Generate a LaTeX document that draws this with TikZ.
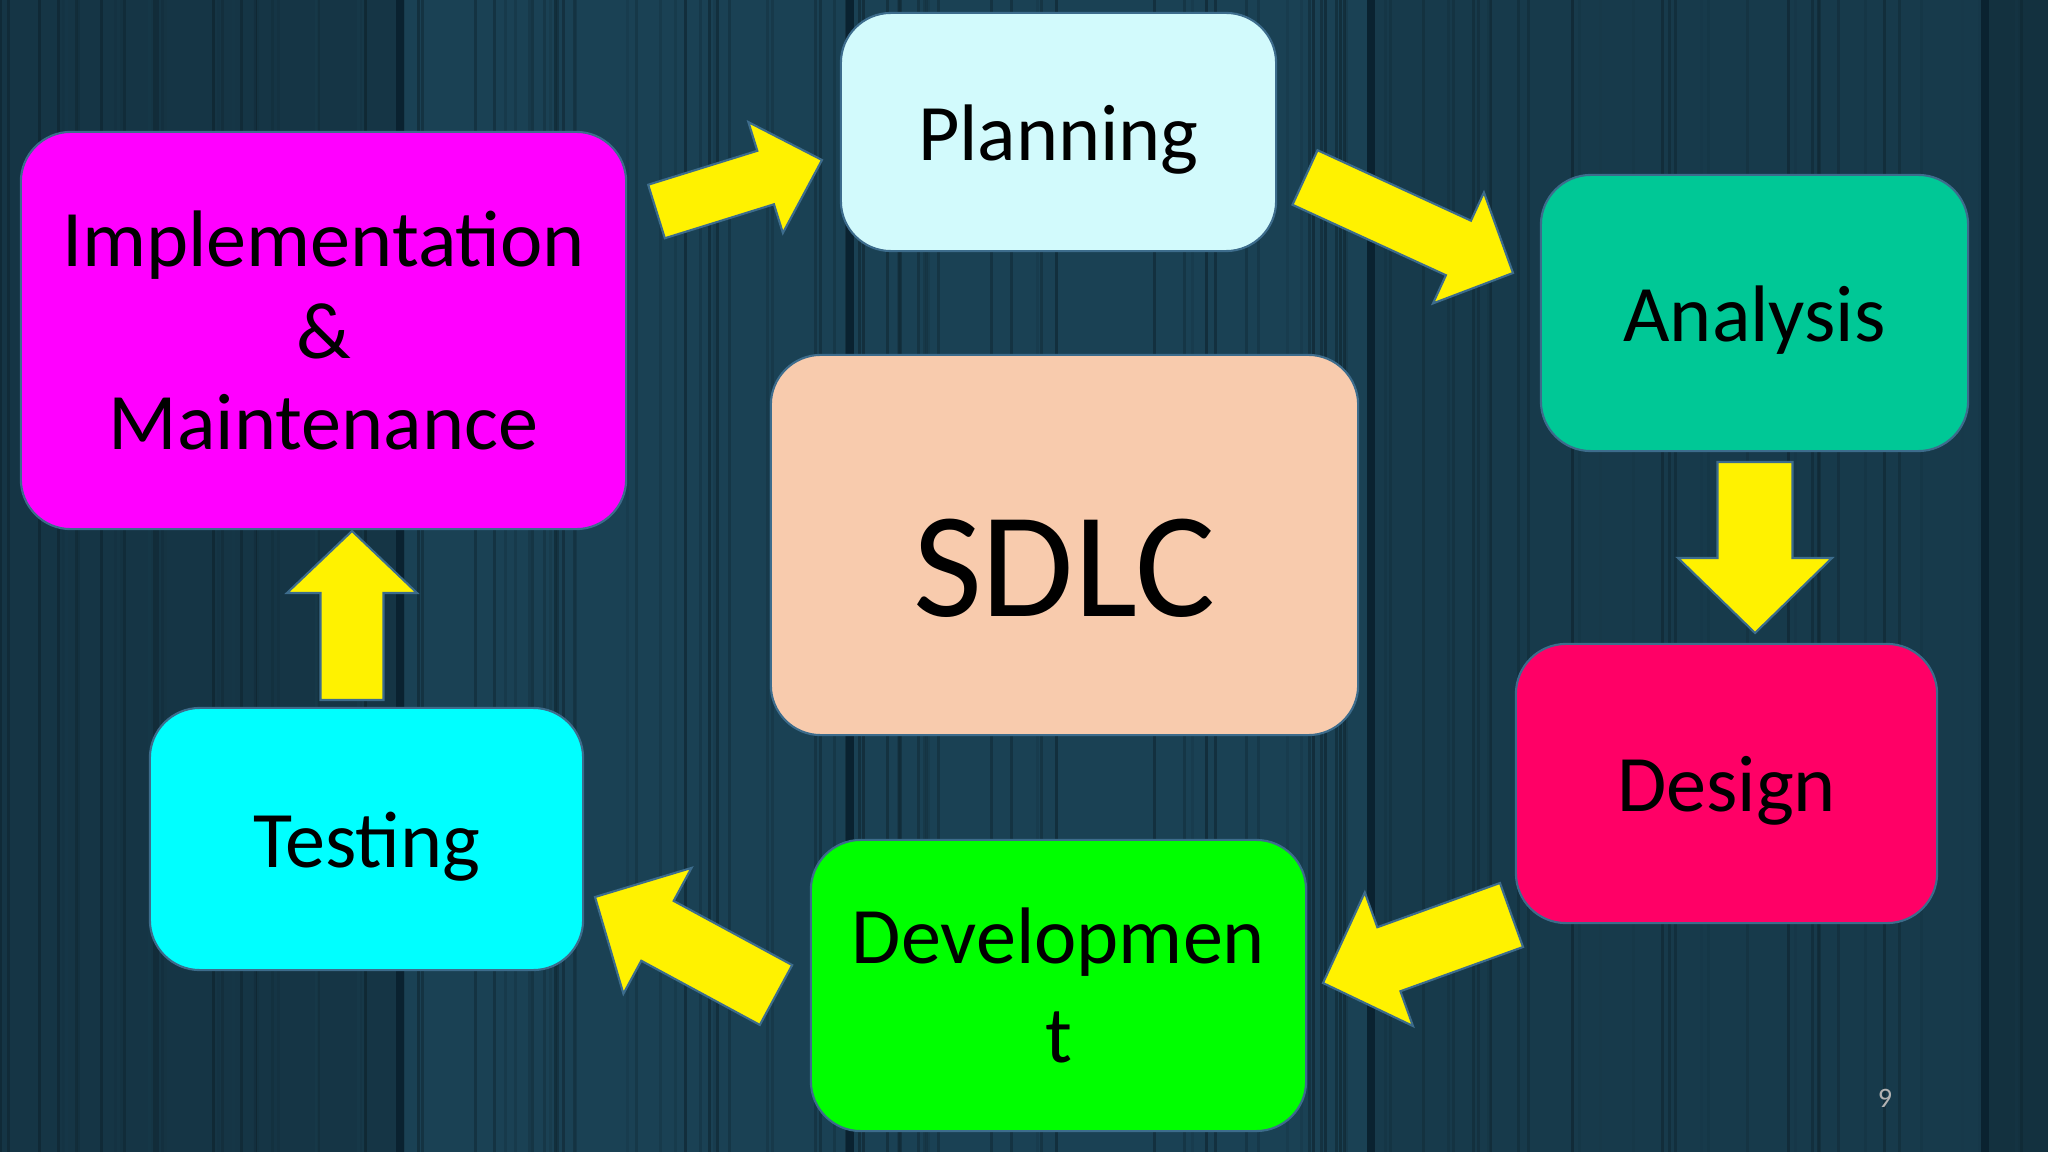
\documentclass[tikz,border=0pt]{standalone}
\usepackage{fontspec}
\setmainfont{Carlito}
\usetikzlibrary{calc,positioning}

\definecolor{woodbg}{HTML}{1A4154}
\definecolor{woodseam}{HTML}{0A2230}
\definecolor{boxline}{HTML}{3D6C8C}
\definecolor{planfill}{HTML}{D2FAFC}
\definecolor{analfill}{HTML}{00C896}
\definecolor{desfill}{HTML}{FF0066}
\definecolor{devfill}{HTML}{00FF00}
\definecolor{testfill}{HTML}{00FFFF}
\definecolor{implfill}{HTML}{FF00FF}
\definecolor{sdlcfill}{HTML}{F8CBAD}

\tikzset{
  phase/.style={draw=boxline, line width=0.6pt, rounded corners=0.5cm,
    inner sep=2pt, font=\fontsize{22.8}{26}\selectfont},
  oneline/.style={text height=21pt, text depth=5pt},
  yellowarrow/.style={fill=yellow, draw=boxline, line width=0.6pt, line join=miter}
}

% tail, tip, half shaft, half head, head length
\newcommand{\blockarrow}[5]{%
  \filldraw[yellowarrow] ($(#1)!#3!90:(#2)$) -- ($(#2)!#5!(#1)!#3!90:(#2)$)
    -- ($(#2)!#5!(#1)!#4!90:(#2)$) -- (#2) -- ($(#2)!#5!(#1)!#4!-90:(#2)$)
    -- ($(#2)!#5!(#1)!#3!-90:(#2)$) -- ($(#1)!#3!-90:(#2)$) -- cycle;}

\begin{document}
\begin{tikzpicture}[x=0.01cm,y=-0.01cm]
	% wood planks
	\fill[woodbg] (0,0) rectangle (2048,1152);
	\useasboundingbox (0,0) rectangle (2048,1152);
	\fill[woodbg!82!black] (0,0) rectangle (400,1152);
	\fill[woodbg!90!black] (1371,0) rectangle (1985,1152);
	\fill[woodbg!75!black] (1985,0) rectangle (2048,1152);
	\pgfmathsetseed{7}
	\foreach \i in {1,...,140} {
		\pgfmathsetmacro{\gx}{2048*rnd}
		\pgfmathsetmacro{\gs}{50+40*rnd}
		\draw[woodbg!\gs!black, line width=0.03cm, opacity=0.6] (\gx,0) -- (\gx,1152);
	}
	\foreach \x in {400,850,1371,1985}
		\draw[woodseam, line width=0.08cm] (\x,0) -- (\x,1152);

	\begin{scope}[every node/.style={phase}]
		\node[oneline, fill=planfill, minimum width=4.35cm, minimum height=2.38cm] (planning) at (1058.5,132) {Planning};
		\node[oneline, fill=analfill, minimum width=4.27cm, minimum height=2.76cm] (analysis) at (1754.5,313) {Analysis};
		\node[oneline, fill=desfill, minimum width=4.21cm, minimum height=2.79cm] (design) at (1726.5,783.5) {Design};
		\node[align=center, fill=devfill, minimum width=4.95cm, minimum height=2.91cm] (devel) at (1058.5,985.5) {Developmen\\[2pt]t};
		\node[oneline, fill=testfill, minimum width=4.33cm, minimum height=2.62cm] (testing) at (366.5,839) {Testing};
		\node[align=center, fill=implfill, minimum width=6.05cm, minimum height=3.97cm] (impl) at (323.5,330.5) {Implementation\\\&\\Maintenance};
		\node[fill=sdlcfill, minimum width=5.87cm, minimum height=3.80cm, text height=40.5pt, text depth=0pt,
			font=\fontsize{42.7}{48}\selectfont] (sdlc) at (1064.5,545) {SDLC};
	\end{scope}

	% arrow ends
	\coordinate (a1s) at (656.5,211.5);
	\coordinate (a1e) at (822,160);
	\coordinate (a2s) at (1305,177.5);
	\coordinate (a2e) at (1513,273);
	\coordinate (a3s) at (1755,462);
	\coordinate (a3e) at (1755,633);
	\coordinate (a4s) at (1511.5,915);
	\coordinate (a4e) at (1323,983);
	\coordinate (a5s) at (776,995);
	\coordinate (a5e) at (595,897);
	\coordinate (a6s) at (352,700);
	\coordinate (a6e) at (352,531);

	\blockarrow{a1s}{a1e}{0.28cm}{0.58cm}{0.59cm}
	\blockarrow{a2s}{a2e}{0.30cm}{0.61cm}{0.60cm}
	\blockarrow{a3s}{a3e}{0.375cm}{0.77cm}{0.75cm}
	\blockarrow{a4s}{a4e}{0.34cm}{0.71cm}{0.70cm}
	\blockarrow{a5s}{a5e}{0.34cm}{0.715cm}{0.71cm}
	\blockarrow{a6s}{a6e}{0.315cm}{0.65cm}{0.62cm}

	\node[text=gray!60, font=\fontsize{8}{9}\selectfont] (pagenum) at (1885,1098) {9};
\end{tikzpicture}
\end{document}
